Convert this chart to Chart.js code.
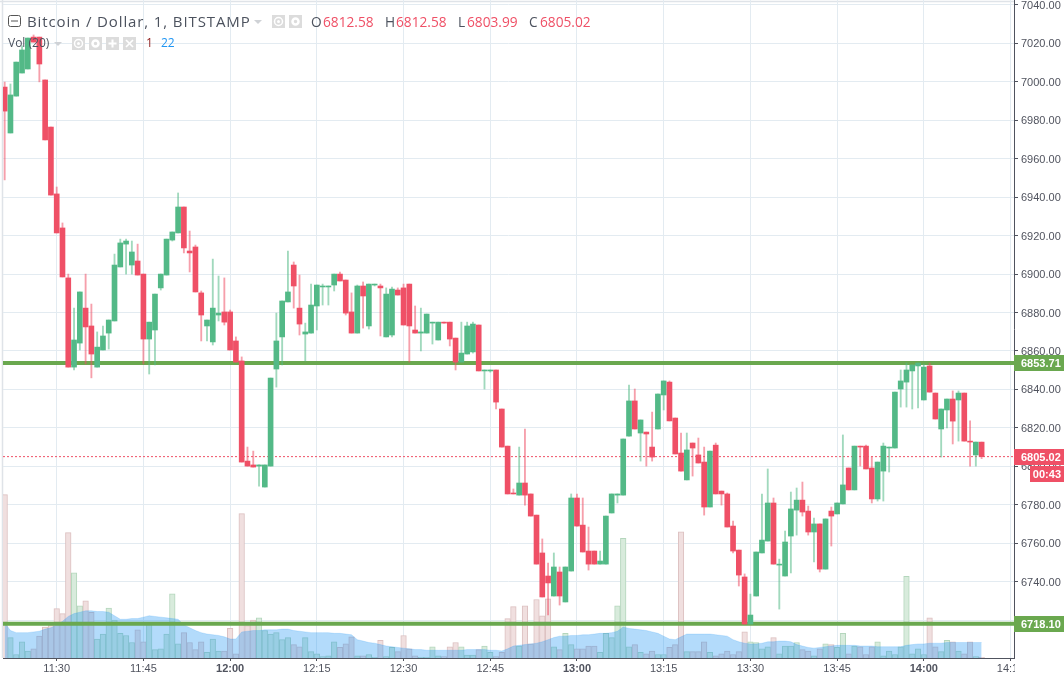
<!DOCTYPE html>
<html><head><meta charset="utf-8">
<style>
html,body{margin:0;padding:0;background:#fff;overflow:hidden}
#wrap{position:relative;width:1064px;height:677px}
canvas{position:absolute;left:0;top:0}
.t{position:absolute;white-space:nowrap;font-family:"Open Sans",sans-serif;color:#4c525e;line-height:1}
.red{color:#ef5066}
.arrow{position:absolute;width:0;height:0;border-left:4px solid transparent;border-right:4px solid transparent;border-top:4px solid #cfd2d6}
.ic{position:absolute;width:13px;height:13px;background:#dcdcdc}
.ic svg{display:block}
</style></head><body>
<div id="wrap">
<canvas id="c" width="1064" height="677"></canvas>
<svg style="position:absolute;left:8px;top:15px" width="13" height="12"><rect x=".5" y=".5" width="12" height="11" rx="2" fill="none" stroke="#555"/><path d="M3 6h7" stroke="#555"/></svg>
<div class="t" id="title" style="left:27px;top:14px;font-size:15px;letter-spacing:.88px">Bitcoin / Dollar, 1, BITSTAMP</div>
<div class="arrow" style="left:254px;top:20px"></div>
<div class="ic" style="left:272px;top:15px"><svg width="13" height="13"><circle cx="6.5" cy="6.5" r="4" fill="none" stroke="#fff" stroke-width="1.5"/><circle cx="6.5" cy="6.5" r="1.5" fill="#fff"/></svg></div>
<div class="ic" style="left:289px;top:15px"><svg width="13" height="13"><circle cx="6.5" cy="6.5" r="3" fill="none" stroke="#fff" stroke-width="2.5"/></svg></div>
<div class="t" style="left:311px;top:15px;font-size:13.7px">O</div><div class="t red" style="left:323px;top:15px;font-size:13.7px">6812.58</div>
<div class="t" style="left:385px;top:15px;font-size:13.7px">H</div><div class="t red" style="left:396px;top:15px;font-size:13.7px">6812.58</div>
<div class="t" style="left:458px;top:15px;font-size:13.7px">L</div><div class="t red" style="left:467px;top:15px;font-size:13.7px">6803.99</div>
<div class="t" style="left:529px;top:15px;font-size:13.7px">C</div><div class="t red" style="left:540px;top:15px;font-size:13.7px">6805.02</div>
<div class="t" style="left:8px;top:37px;font-size:12px">Vol (20)</div>
<div class="arrow" style="left:54px;top:42px"></div>
<div class="ic" style="left:72px;top:37px"><svg width="13" height="13"><circle cx="6.5" cy="6.5" r="4" fill="none" stroke="#fff" stroke-width="1.5"/><circle cx="6.5" cy="6.5" r="1.5" fill="#fff"/></svg></div>
<div class="ic" style="left:89px;top:37px"><svg width="13" height="13"><circle cx="6.5" cy="6.5" r="3" fill="none" stroke="#fff" stroke-width="2.5"/></svg></div>
<div class="ic" style="left:106px;top:37px"><svg width="13" height="13"><path d="M6.5 2.5v8M2.5 6.5h8" stroke="#fff" stroke-width="2"/></svg></div>
<div class="ic" style="left:123px;top:37px"><svg width="13" height="13"><path d="M3 3l7 7M10 3l-7 7" stroke="#fff" stroke-width="1.7"/></svg></div>
<div class="t" style="left:146px;top:37px;font-size:12px;color:#8e1c1c">1</div>
<div class="t" style="left:161px;top:37px;font-size:12px;color:#2196f3">22</div>
</div>
<script src="https://cdn.jsdelivr.net/npm/chart.js@4"></script>
<script>
const opens=[6997.3,6973.4,6992.6,7004.6,7006.7,7023.3,7023.3,7001,6976.5,6941.7,
6924,6898,6851.6,6864.1,6882.3,6873,6851.6,6860.5,6869.3,6875.6,
6903.7,6915.6,6904.7,6906.8,6900,6866.2,6870.9,6892.8,6899.5,6917.7,
6921.4,6934.9,6912,6914.1,6890.2,6873,6864.7,6878.7,6880.3,6880.3,
6865.2,6854.8,6802.7,6800.7,6800.1,6789.2,6800.1,6850.6,6867.3,6885.5,
6904.7,6882.3,6868.8,6869.3,6883.4,6893.3,6893.3,6894.3,6900,6896.9,
6880.3,6869.3,6893.8,6873,6894.3,6893.8,6867.3,6868.3,6891.7,6892.8,
6894.8,6870.9,6869.3,6869.3,6874.5,6865.7,6875,6875,6866.7,6854.2,
6858.4,6859.5,6873.5,6849.6,6849.6,6850.1,6829.8,6810.5,6786.1,6785,
6791.3,6785.6,6774.6,6754.9,6742.9,6732.5,6745,6729.4,6745.5,6783.5,
6769.4,6755.9,6755.9,6749.1,6749.1,6775.7,6785,6785,6815.7,6834,
6817.3,6817.8,6810,6819.4,6837.1,6843.8,6825.1,6806.9,6792.9,6812.1,
6805.9,6802.2,6778.8,6811,6787.1,6785.6,6768.9,6756.4,6742.4,6717.9,
6732.5,6754.9,6761.1,6780.9,6748.6,6742.9,6763.7,6777.2,6782.4,6776.7,
6765.8,6770,6746.5,6776.7,6775.2,6780.4,6799.1,6787.7,6810.5,6810.5,
6799.1,6783,6797.5,6809.5,6809.5,6840.2,6843.8,6849.6,6852.2,6834.5,
6852.2,6838.1,6819.4,6829.3,6835,6834.5,6838.1,6813.1,6805.9,6812.58];
const closes=[6984.8,6993.2,7010.3,7016.6,7022.8,7020.7,7009.3,6969.8,6941.1,6921.4,
6898.5,6851.6,6865.7,6890.7,6872.5,6858.4,6862,6867.8,6876.1,6904.7,
6916.2,6917.2,6911.5,6899.5,6866.2,6875,6889.6,6900,6918.2,6921.9,
6934.9,6913.6,6911,6890.7,6878.7,6876.1,6882.3,6879.7,6875,6860.5,
6854.2,6802.2,6800.1,6799.6,6800.7,6800.7,6845.9,6865.2,6886,6890.7,
6893.8,6874,6869.9,6883.9,6894.3,6893.8,6893.8,6900,6896.4,6879.7,
6869.3,6893.8,6888.6,6894.8,6894.8,6892.8,6889.6,6892.2,6889.1,6873.5,
6873,6869.3,6869.9,6879.2,6875,6875,6874.5,6866.2,6854.2,6858.9,
6873,6874,6849.6,6850.1,6850.1,6833.4,6810,6785.6,6785.6,6791.3,
6785,6774.1,6749.1,6732,6739.3,6747.6,6732.5,6747.6,6783.5,6768.9,
6755.4,6749.1,6749.1,6750.7,6774.1,6785.6,6785.6,6814.2,6834,6819.4,
6824.1,6816.8,6804.8,6837.6,6844.4,6823.6,6806.4,6797.5,6808.5,6809.5,
6801.7,6778.8,6807.9,6785.6,6785.6,6768.4,6755.9,6743.4,6717.9,6722.6,
6755.4,6761.6,6780.9,6749.1,6749.1,6760.6,6777.8,6782.4,6776.2,6765.8,
6770,6746.5,6772.6,6774.1,6780.9,6790.3,6787.7,6810.5,6810,6798.6,
6783,6802.2,6810.5,6810,6838.6,6844.4,6850.1,6852.7,6853.7,6851.6,
6838.6,6824.6,6829.8,6835,6823.5,6838.1,6813.1,6812.6,6812.6,6805.02];
const highs=[6999.9,6998.9,7010.3,7018.7,7022.8,7024.4,7023.3,7001,6976.5,6945.3,
6926.6,6900,6882.3,6890.7,6900,6884.4,6869.9,6873,6876.1,6910.4,
6918.2,6918.2,6917.2,6915.6,6900,6875,6889.6,6900,6918.2,6921.9,
6942.2,6934.9,6922.4,6915.1,6891.2,6876.1,6907.8,6899,6898,6881.3,
6867.3,6856.9,6810,6807.9,6800.7,6800.7,6845.9,6879.7,6886,6912,
6906.3,6899.5,6874.5,6894.8,6894.3,6894.8,6893.8,6900,6901.1,6896.9,
6890.2,6894.3,6895.9,6894.8,6894.8,6894.8,6892.8,6893.3,6892.8,6894.8,
6894.8,6883.4,6882.3,6879.2,6875,6875,6875,6875,6866.7,6875,
6875,6875,6873.5,6850.1,6850.1,6850.1,6829.8,6810.5,6788.2,6810,
6819.4,6785.6,6774.6,6762.2,6749.7,6754.9,6747.6,6747.6,6785.6,6785.6,
6783.5,6768.4,6755.9,6755.9,6774.1,6785.6,6785.6,6814.2,6842.3,6840.2,
6824.1,6817.8,6828.2,6837.6,6844.4,6844.4,6825.1,6817.3,6817.3,6812.1,
6814.7,6810,6807.9,6812.1,6787.1,6786.1,6771.5,6756.4,6744,6733.5,
6755.4,6785.6,6798.6,6783.5,6751.7,6766.3,6786.6,6788.7,6791.8,6779.3,
6773,6770,6772.6,6778.8,6780.9,6816.3,6799.1,6810.5,6810.5,6811,
6804.8,6802.2,6812.1,6810,6838.6,6850.1,6853.7,6852.7,6853.7,6853.2,
6853.7,6838.1,6829.8,6835,6839.2,6839.2,6838.1,6823.6,6812.6,6812.58];
const lows=[6949,6973.4,6992.6,7004.6,7006.7,7020.7,7000,6969.8,6941.1,6921.4,
6898.5,6851.6,6850.1,6860.5,6853.2,6846,6851.6,6860.5,6861,6875.6,
6903.7,6900,6900,6899.5,6853.2,6848,6852.7,6891.7,6899.5,6917.2,
6921.4,6911,6901.1,6890.7,6865.2,6865.2,6863.1,6875.6,6873.5,6860.5,
6854.2,6802.2,6800.1,6799.6,6789.7,6789.2,6800.1,6841.2,6852.7,6885.5,
6882.3,6868.3,6854.8,6869.3,6870.9,6883.9,6883.9,6891.2,6896.4,6878.7,
6869.3,6869.3,6871.9,6871.4,6893.8,6867.8,6867.3,6867.3,6889.1,6873.5,
6854.2,6869.3,6860,6869.3,6863.6,6865.7,6874.5,6862.6,6850.1,6854.2,
6858.4,6858.9,6849.6,6840.2,6849,6829.8,6810,6785.6,6785.6,6785,
6779.8,6774.1,6749.1,6732,6722.6,6732.5,6727.8,6729.4,6745.5,6768.9,
6755.4,6746,6749.1,6749.1,6749.1,6775.7,6780.9,6785,6815.7,6819.4,
6802.7,6800.1,6802.7,6819.4,6829.3,6823.6,6806.4,6797.5,6792.9,6794.9,
6801.7,6774.6,6778.8,6785.6,6779.8,6768.4,6754.9,6737.7,6717.9,6717.9,
6732.5,6754.9,6761.1,6749.1,6725.7,6742.9,6744.5,6764.2,6774.1,6764.2,
6750.2,6745,6746.5,6758.5,6775.2,6780.4,6787.7,6787.7,6800.1,6798.6,
6780.9,6781.9,6781.9,6797,6809.5,6830.8,6830.8,6829.8,6830.3,6834.5,
6838.6,6824.6,6804.8,6819.9,6811.6,6813.1,6813.1,6800.1,6800.1,6803.99];
const volumes=[232,29,5,23,10,13,31,44,47,70,
63,178,121,74,81,65,27,34,71,54,
35,32,22,40,23,50,12,13,34,91,
20,36,22,12,23,8,27,10,10,42,
6,205,46,54,57,39,34,36,26,29,
19,16,29,9,6,2,3,23,15,20,
30,3,3,5,1,25,2,15,9,32,
13,3,1,1,16,3,2,16,22,16,
4,4,12,17,8,2,8,56,73,17,
74,20,83,60,84,16,12,35,19,13,
13,17,17,8,35,29,74,170,16,19,
8,6,10,5,5,15,19,179,9,9,
9,23,8,3,6,10,5,9,37,23,
22,13,16,29,6,17,17,22,12,10,
3,13,20,19,15,35,6,17,16,5,
16,23,3,10,5,16,116,6,13,5,
57,16,9,25,23,10,6,23,2,1];
const volumeMA=[50,39,36,36,36,37,38,41,43,47,
52,59,63,65,67,67,66,66,65,60,
55,55,56,56,58,60,59,58,57,56,
55,47,43,39,36,34,33,32,30,27,
27,37,38,39,39,40,40,40,41,41,
39,38,37,36,36,36,36,35,35,34,
33,26,24,22,21,19,17,16,15,14,
13,12,12,11,11,11,11,11,11,11,
12,12,12,12,11,11,10,13,17,18,
19,20,21,23,26,29,31,31,32,32,
33,33,34,35,35,36,38,44,42,41,
40,39,37,35,31,27,26,30,34,34,
34,34,34,33,32,31,26,23,21,20,
20,21,23,23,24,24,23,19,17,15,
14,15,16,17,18,18,18,18,17,17,
17,16,16,16,16,16,18,19,20,20,
21,21,21,22,22,22,22,22,22,22];
const firstMinute=681; // 11:21
const minutes=opens.map((_,i)=>firstMinute+i);
const xTickMinutes=[690,705,720,735,750,765,780,795,810,825,840,855];
const xTickLabels=["11:30","11:45","12:00","12:15","12:30","12:45","13:00","13:15","13:30","13:45","14:00","14:15"];
const yTickValues=[7040,7020,7000,6980,6960,6940,6920,6900,6880,6860,6840,6820,6800,6780,6760,6740,6720];
const resistanceLevel=6853.71, supportLevel=6718.10, lastPrice=6805.02, countdown="00:43";
const xRange=[680.71,855.6], yRange=[6700.25,7042.6], volRange=[0,934];

const UP='#53b987',DOWN='#ef5066',UPW='rgba(83,185,135,.55)',DOWNW='rgba(239,80,102,.55)',LEVEL='#6aa84f';
const isUp=closes.map((c,i)=>c>=opens[i]);

const badges={id:'badges',
 beforeDraw(ch){const {ctx,chartArea:a}=ch;ctx.save();ctx.strokeStyle='#dfe3e8';ctx.lineWidth=1.5;
  ctx.beginPath();ctx.moveTo(a.left-.5,a.top);ctx.lineTo(a.left-.5,a.bottom);ctx.moveTo(0,1.5);ctx.lineTo(a.right,1.5);ctx.stroke();ctx.restore();},
 afterDraw(ch){const {ctx,chartArea:a,scales:{y}}=ch;ctx.save();
  ctx.fillStyle='#fff';ctx.fillRect(a.right+1,a.bottom+1,50,20);
  ctx.font='bold 11px "Liberation Sans"';ctx.textBaseline='middle';
  const tag=(v,col)=>{const p=Math.round(y.getPixelForValue(v));ctx.fillStyle=col;ctx.fillRect(a.right,p-8,50,16);
    ctx.fillStyle='#fff';ctx.textAlign='left';ctx.fillText(v.toFixed(2),a.right+7,p+.5);return p;};
  tag(resistanceLevel,LEVEL);tag(supportLevel,LEVEL);
  const p=tag(lastPrice,DOWN);
  ctx.fillStyle=DOWN;ctx.fillRect(1030,p+9,34,16);ctx.fillStyle='#fff';ctx.textAlign='right';ctx.fillText(countdown,1061,p+17.5);
  ctx.restore();}};

new Chart(document.getElementById('c'),{
 type:'bar',plugins:[badges],
 data:{datasets:[
  {label:'body',order:0,grouped:false,barThickness:5,xAxisID:'x',yAxisID:'y',
   data:minutes.map((m,i)=>({x:m,y:[opens[i],closes[i]]})),backgroundColor:isUp.map(u=>u?UP:DOWN)},
  {label:'wick',order:1,grouped:false,barThickness:1.2,xAxisID:'x',yAxisID:'y',
   data:minutes.map((m,i)=>({x:m,y:[lows[i],highs[i]]})),backgroundColor:isUp.map(u=>u?UPW:DOWNW)},
  {type:'line',label:'last',order:2,data:xRange.map(x=>({x,y:lastPrice})),borderColor:DOWN,borderWidth:1,borderDash:[2,2],pointRadius:0,xAxisID:'x',yAxisID:'y'},
  {type:'line',label:'resistance',order:3,data:xRange.map(x=>({x,y:resistanceLevel})),borderColor:LEVEL,borderWidth:4,pointRadius:0,xAxisID:'x',yAxisID:'y'},
  {type:'line',label:'support',order:3,data:xRange.map(x=>({x,y:supportLevel})),borderColor:LEVEL,borderWidth:4,pointRadius:0,xAxisID:'x',yAxisID:'y'},
  {type:'line',label:'Vol MA',order:4,data:minutes.map((m,i)=>({x:m,y:volumeMA[i]})),borderColor:'rgba(33,150,243,.18)',borderWidth:1,backgroundColor:'rgba(33,150,243,.34)',fill:'origin',pointRadius:0,tension:0,xAxisID:'x',yAxisID:'y2'},
  {label:'Vol',order:5,grouped:false,barThickness:5.6,xAxisID:'x',yAxisID:'y2',
   data:minutes.map((m,i)=>({x:m,y:volumes[i]})),
   backgroundColor:isUp.map(u=>u?'#d8ebdc':'#f0dfdf'),
   borderColor:isUp.map(u=>u?'#b4d6bc':'#dcc0c0'),borderWidth:1}
 ]},
 options:{responsive:false,animation:false,devicePixelRatio:1,
  layout:{padding:{left:3,right:0,top:0,bottom:0}},
  plugins:{legend:{display:false},tooltip:{enabled:false}},
  scales:{
   x:{type:'linear',position:'bottom',min:xRange[0],max:xRange[1],offset:false,
    afterBuildTicks(s){s.ticks=xTickMinutes.map(v=>({value:v}));},
    afterFit(s){s.height=19;s.paddingLeft=0;s.paddingRight=0;},
    grid:{offset:false,color:'#e3ebf1',lineWidth:1,tickColor:'#50535e',tickLength:3,drawTicks:true},
    border:{display:true,color:'#50535e',width:1},
    ticks:{autoSkip:false,maxRotation:0,padding:1,color:'#50535e',
     font:c=>({family:'"Liberation Sans"',size:11,weight:c.tick&&c.tick.value%60===0?'bold':'normal'}),
     callback:v=>xTickLabels[xTickMinutes.indexOf(v)]}},
   y:{type:'linear',position:'right',min:yRange[0],max:yRange[1],
    afterBuildTicks(s){s.ticks=yTickValues.map(v=>({value:v}));},
    afterFit(s){s.width=50;s.paddingTop=0;s.paddingBottom=0;},
    grid:{color:'#e3ebf1',lineWidth:1,tickColor:'#50535e',tickLength:4},
    border:{display:true,color:'#50535e',width:1},
    ticks:{autoSkip:false,padding:3,labelOffset:1,color:'#50535e',font:{family:'"Liberation Sans"',size:11},callback:v=>v.toFixed(2)}},
   y2:{type:'linear',display:false,min:volRange[0],max:volRange[1]}
  }}
});
</script>
</body></html>
